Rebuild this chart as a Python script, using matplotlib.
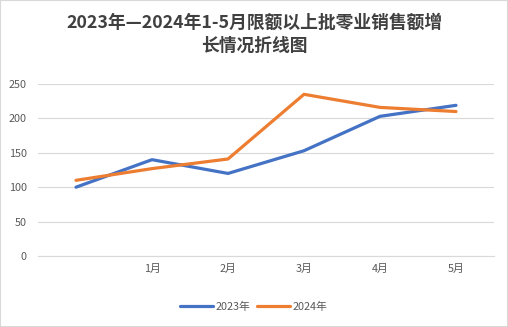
import matplotlib
matplotlib.use("Agg")
import matplotlib.pyplot as plt
from matplotlib.patches import Rectangle

plt.rcParams['font.family'] = ['Noto Sans CJK SC', 'DejaVu Sans']

categories = ['', '1月', '2月', '3月', '4月', '5月']
series_2023 = [100, 140, 120, 153, 203, 219]
series_2024 = [110, 127, 141, 235, 216, 210]
yticks = [0, 50, 100, 150, 200, 250]
title = '2023年—2024年1-5月限额以上批零业销售额增\n长情况折线图'

fig = plt.figure(figsize=(5.08, 3.27), dpi=100)
ax = fig.add_axes([38/508, 1-256/327, (494-38)/508, (256-84)/327])

x = list(range(len(categories)))
ax.plot(x, series_2023, color='#4472C4', lw=2.3, label='2023年', solid_capstyle='round')
ax.plot(x, series_2024, color='#ED7D31', lw=2.3, label='2024年', solid_capstyle='round')

ax.set_xlim(-0.5, len(categories)-0.5)
ax.set_ylim(0, 250)
ax.set_yticks(yticks)
ax.set_xticks(x)
ax.set_xticklabels(categories)
ax.grid(axis='y', color='#D9D9D9', lw=0.8)
ax.set_axisbelow(True)
for s in ['top', 'right', 'left']:
    ax.spines[s].set_visible(False)
ax.spines['bottom'].set_color('#D9D9D9')
ax.spines['bottom'].set_linewidth(0.8)
ax.tick_params(axis='both', length=0, labelsize=7.8, labelcolor='#595959')
ax.tick_params(axis='y', pad=8)
ax.tick_params(axis='x', pad=6)

fig.text(0.5, 1-34/327, title, ha='center', va='center', fontsize=12.8,
         fontweight='bold', color='#404040', linespacing=1.35)

leg = fig.legend(loc='center', bbox_to_anchor=(0.5, 1-307/327), ncol=2, frameon=False,
                 fontsize=7.8, handlelength=3.0, columnspacing=0.6, handletextpad=0.3)
for t in leg.get_texts():
    t.set_color('#595959')

fig.patches.append(Rectangle((0, 0), 1, 1, transform=fig.transFigure, fill=False,
                             edgecolor='#D9D9D9', lw=1.5))

fig.savefig('out.png', dpi=100)
